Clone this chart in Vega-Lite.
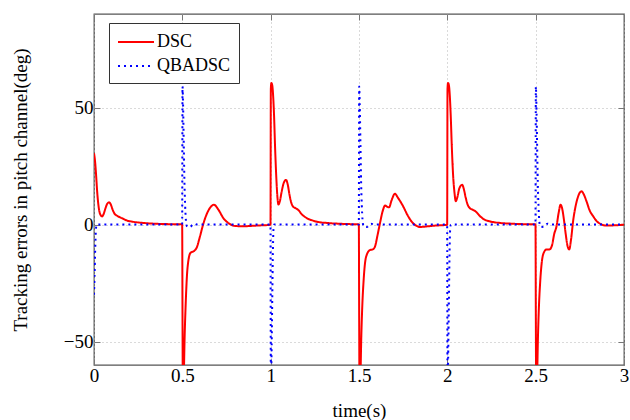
{
  "$schema": "https://vega.github.io/schema/vega-lite/v6.json",
  "width": 530,
  "height": 351,
  "autosize": {"type": "none"},
  "padding": {"left": 94, "top": 14, "right": 6, "bottom": 55},
  "background": "white",
  "config": {
    "view": {"stroke": "#555", "strokeWidth": 1.3},
    "font": "Liberation Serif"
  },
  "datasets": {
    "curves": [
      {"s":"DSC","t":0,"v":30.5},{"s":"DSC","t":0.006,"v":27},{"s":"DSC","t":0.012,"v":21},{"s":"DSC","t":0.018,"v":14},{"s":"DSC","t":0.024,"v":9},{"s":"DSC","t":0.03,"v":5.8},{"s":"DSC","t":0.038,"v":4},{"s":"DSC","t":0.046,"v":3.5},{"s":"DSC","t":0.055,"v":4.6},{"s":"DSC","t":0.065,"v":7},{"s":"DSC","t":0.075,"v":8.9},{"s":"DSC","t":0.085,"v":9.5},{"s":"DSC","t":0.095,"v":8.6},{"s":"DSC","t":0.105,"v":6.5},{"s":"DSC","t":0.115,"v":4.8},{"s":"DSC","t":0.128,"v":3.9},{"s":"DSC","t":0.145,"v":3.2},{"s":"DSC","t":0.165,"v":2.5},{"s":"DSC","t":0.185,"v":1.8},{"s":"DSC","t":0.205,"v":1.4},{"s":"DSC","t":0.24,"v":1},{"s":"DSC","t":0.28,"v":0.7},{"s":"DSC","t":0.34,"v":0.4},{"s":"DSC","t":0.42,"v":0.2},{"s":"DSC","t":0.499,"v":0.1},
      {"s":"DSC","t":0.501,"v":-40},{"s":"DSC","t":0.503,"v":-75},{"s":"DSC","t":0.508,"v":-66},{"s":"DSC","t":0.513,"v":-48},{"s":"DSC","t":0.518,"v":-36},{"s":"DSC","t":0.526,"v":-22},{"s":"DSC","t":0.534,"v":-15.5},{"s":"DSC","t":0.547,"v":-12},{"s":"DSC","t":0.566,"v":-11.3},{"s":"DSC","t":0.581,"v":-9.9},{"s":"DSC","t":0.6,"v":-5},{"s":"DSC","t":0.619,"v":0.4},{"s":"DSC","t":0.641,"v":5},{"s":"DSC","t":0.66,"v":7.5},{"s":"DSC","t":0.679,"v":8.5},{"s":"DSC","t":0.704,"v":6.4},{"s":"DSC","t":0.732,"v":2.8},{"s":"DSC","t":0.76,"v":0.7},{"s":"DSC","t":0.8,"v":-0.6},{"s":"DSC","t":0.85,"v":-0.7},{"s":"DSC","t":0.9,"v":-0.5},{"s":"DSC","t":0.95,"v":-0.3},{"s":"DSC","t":0.999,"v":-0.1},
      {"s":"DSC","t":1.001,"v":58},{"s":"DSC","t":1.004,"v":60.5},{"s":"DSC","t":1.009,"v":59.5},{"s":"DSC","t":1.014,"v":55},{"s":"DSC","t":1.019,"v":47},{"s":"DSC","t":1.025,"v":33},{"s":"DSC","t":1.032,"v":20},{"s":"DSC","t":1.038,"v":12},{"s":"DSC","t":1.044,"v":8.6},{"s":"DSC","t":1.052,"v":10},{"s":"DSC","t":1.062,"v":14},{"s":"DSC","t":1.074,"v":17.8},{"s":"DSC","t":1.087,"v":19.1},{"s":"DSC","t":1.097,"v":17},{"s":"DSC","t":1.106,"v":13},{"s":"DSC","t":1.116,"v":9.5},{"s":"DSC","t":1.128,"v":7.6},{"s":"DSC","t":1.142,"v":7},{"s":"DSC","t":1.157,"v":6.2},{"s":"DSC","t":1.175,"v":4.5},{"s":"DSC","t":1.204,"v":2.8},{"s":"DSC","t":1.24,"v":1.7},{"s":"DSC","t":1.27,"v":1.1},{"s":"DSC","t":1.32,"v":0.7},{"s":"DSC","t":1.38,"v":0.4},{"s":"DSC","t":1.45,"v":0.2},{"s":"DSC","t":1.499,"v":0.1},
      {"s":"DSC","t":1.501,"v":-40},{"s":"DSC","t":1.503,"v":-75},{"s":"DSC","t":1.508,"v":-66},{"s":"DSC","t":1.513,"v":-48},{"s":"DSC","t":1.518,"v":-36},{"s":"DSC","t":1.526,"v":-24},{"s":"DSC","t":1.534,"v":-16.5},{"s":"DSC","t":1.546,"v":-12.5},{"s":"DSC","t":1.562,"v":-10.9},{"s":"DSC","t":1.578,"v":-10.6},{"s":"DSC","t":1.59,"v":-9.5},{"s":"DSC","t":1.605,"v":-4.5},{"s":"DSC","t":1.619,"v":0.7},{"s":"DSC","t":1.633,"v":5.5},{"s":"DSC","t":1.648,"v":8.2},{"s":"DSC","t":1.66,"v":7.6},{"s":"DSC","t":1.67,"v":7.4},{"s":"DSC","t":1.685,"v":10.5},{"s":"DSC","t":1.703,"v":13.2},{"s":"DSC","t":1.72,"v":11.5},{"s":"DSC","t":1.75,"v":7.8},{"s":"DSC","t":1.775,"v":4},{"s":"DSC","t":1.797,"v":1.4},{"s":"DSC","t":1.82,"v":-0.3},{"s":"DSC","t":1.845,"v":-1},{"s":"DSC","t":1.88,"v":-0.8},{"s":"DSC","t":1.92,"v":-0.5},{"s":"DSC","t":1.96,"v":-0.3},{"s":"DSC","t":1.999,"v":-0.1},
      {"s":"DSC","t":2.001,"v":58},{"s":"DSC","t":2.004,"v":60.5},{"s":"DSC","t":2.009,"v":59.5},{"s":"DSC","t":2.014,"v":55},{"s":"DSC","t":2.019,"v":47},{"s":"DSC","t":2.025,"v":34},{"s":"DSC","t":2.032,"v":22},{"s":"DSC","t":2.04,"v":14},{"s":"DSC","t":2.048,"v":10},{"s":"DSC","t":2.056,"v":11.5},{"s":"DSC","t":2.068,"v":15.5},{"s":"DSC","t":2.084,"v":17},{"s":"DSC","t":2.094,"v":15},{"s":"DSC","t":2.104,"v":11.5},{"s":"DSC","t":2.115,"v":8.5},{"s":"DSC","t":2.128,"v":7},{"s":"DSC","t":2.145,"v":6.3},{"s":"DSC","t":2.162,"v":5.5},{"s":"DSC","t":2.18,"v":4},{"s":"DSC","t":2.204,"v":2.4},{"s":"DSC","t":2.24,"v":1.4},{"s":"DSC","t":2.3,"v":0.7},{"s":"DSC","t":2.36,"v":0.4},{"s":"DSC","t":2.43,"v":0.2},{"s":"DSC","t":2.499,"v":0.1},
      {"s":"DSC","t":2.501,"v":-40},{"s":"DSC","t":2.503,"v":-75},{"s":"DSC","t":2.508,"v":-66},{"s":"DSC","t":2.513,"v":-48},{"s":"DSC","t":2.518,"v":-36},{"s":"DSC","t":2.526,"v":-24},{"s":"DSC","t":2.534,"v":-16.5},{"s":"DSC","t":2.546,"v":-12},{"s":"DSC","t":2.562,"v":-10.6},{"s":"DSC","t":2.578,"v":-10.6},{"s":"DSC","t":2.592,"v":-9},{"s":"DSC","t":2.605,"v":-4},{"s":"DSC","t":2.618,"v":-0.7},{"s":"DSC","t":2.63,"v":5},{"s":"DSC","t":2.641,"v":8.5},{"s":"DSC","t":2.651,"v":6.5},{"s":"DSC","t":2.66,"v":2.1},{"s":"DSC","t":2.67,"v":-4},{"s":"DSC","t":2.68,"v":-9},{"s":"DSC","t":2.69,"v":-10.6},{"s":"DSC","t":2.7,"v":-6.5},{"s":"DSC","t":2.713,"v":2.1},{"s":"DSC","t":2.725,"v":7.5},{"s":"DSC","t":2.738,"v":11.5},{"s":"DSC","t":2.75,"v":13.7},{"s":"DSC","t":2.76,"v":14.2},{"s":"DSC","t":2.772,"v":13},{"s":"DSC","t":2.788,"v":9.9},{"s":"DSC","t":2.806,"v":6},{"s":"DSC","t":2.826,"v":3.5},{"s":"DSC","t":2.845,"v":1.5},{"s":"DSC","t":2.864,"v":0.4},{"s":"DSC","t":2.9,"v":-0.4},{"s":"DSC","t":2.95,"v":-0.3},{"s":"DSC","t":3,"v":0},
      {"s":"QBADSC","t":0,"v":-30},{"s":"QBADSC","t":0.003,"v":-22},{"s":"QBADSC","t":0.007,"v":-10},{"s":"QBADSC","t":0.011,"v":-2},{"s":"QBADSC","t":0.015,"v":0},{"s":"QBADSC","t":0.499,"v":0},
      {"s":"QBADSC","t":0.501,"v":59},{"s":"QBADSC","t":0.504,"v":52},{"s":"QBADSC","t":0.508,"v":35},{"s":"QBADSC","t":0.512,"v":18},{"s":"QBADSC","t":0.516,"v":8},{"s":"QBADSC","t":0.52,"v":2},{"s":"QBADSC","t":0.523,"v":0},{"s":"QBADSC","t":0.528,"v":-0.9},{"s":"QBADSC","t":0.545,"v":-1},{"s":"QBADSC","t":0.558,"v":0},{"s":"QBADSC","t":0.568,"v":0.4},{"s":"QBADSC","t":0.585,"v":0},{"s":"QBADSC","t":0.999,"v":0},
      {"s":"QBADSC","t":1.001,"v":-70},{"s":"QBADSC","t":1.004,"v":-60},{"s":"QBADSC","t":1.009,"v":-32},{"s":"QBADSC","t":1.013,"v":-10},{"s":"QBADSC","t":1.016,"v":-2},{"s":"QBADSC","t":1.02,"v":0},{"s":"QBADSC","t":1.499,"v":0},
      {"s":"QBADSC","t":1.501,"v":59},{"s":"QBADSC","t":1.504,"v":52},{"s":"QBADSC","t":1.508,"v":35},{"s":"QBADSC","t":1.512,"v":18},{"s":"QBADSC","t":1.516,"v":8},{"s":"QBADSC","t":1.52,"v":2},{"s":"QBADSC","t":1.523,"v":0},{"s":"QBADSC","t":1.528,"v":-0.9},{"s":"QBADSC","t":1.545,"v":-1},{"s":"QBADSC","t":1.558,"v":0},{"s":"QBADSC","t":1.568,"v":0.4},{"s":"QBADSC","t":1.585,"v":0},{"s":"QBADSC","t":1.999,"v":0},
      {"s":"QBADSC","t":2.001,"v":-70},{"s":"QBADSC","t":2.004,"v":-60},{"s":"QBADSC","t":2.009,"v":-32},{"s":"QBADSC","t":2.013,"v":-10},{"s":"QBADSC","t":2.016,"v":-2},{"s":"QBADSC","t":2.02,"v":0},{"s":"QBADSC","t":2.499,"v":0},
      {"s":"QBADSC","t":2.501,"v":59},{"s":"QBADSC","t":2.504,"v":52},{"s":"QBADSC","t":2.508,"v":35},{"s":"QBADSC","t":2.512,"v":18},{"s":"QBADSC","t":2.516,"v":8},{"s":"QBADSC","t":2.52,"v":2},{"s":"QBADSC","t":2.523,"v":0},{"s":"QBADSC","t":2.528,"v":-0.9},{"s":"QBADSC","t":2.545,"v":-1},{"s":"QBADSC","t":2.558,"v":0},{"s":"QBADSC","t":2.568,"v":0.4},{"s":"QBADSC","t":2.585,"v":0},{"s":"QBADSC","t":3,"v":0}
    ],
    "anchor": [{"t": 0, "v": 0}]
  },
  "layer": [
    {
      "data": {"name": "curves"},
      "mark": {"type": "line", "interpolate": "monotone", "clip": true, "strokeWidth": 2, "strokeJoin": "round"},
      "encoding": {
        "x": {
          "field": "t", "type": "quantitative",
          "scale": {"domain": [0, 3], "nice": false, "zero": false},
          "axis": {
            "orient": "bottom", "values": [0, 0.5, 1, 1.5, 2, 2.5, 3], "format": "~g",
            "grid": true, "gridDash": [1, 3], "gridColor": "#b5b5b5", "gridWidth": 1,
            "domain": false, "ticks": true, "tickSize": -6, "tickColor": "#777", "tickWidth": 1,
            "labelFont": "Liberation Serif", "labelFontSize": 19, "labelColor": "#000", "labelPadding": 7, "labelFlush": false,
            "title": "time(s)", "titleFont": "Liberation Serif", "titleFontSize": 19, "titleFontWeight": "normal", "titleColor": "#000",
            "titleBaseline": "alphabetic", "titleY": 51
          }
        },
        "y": {
          "field": "v", "type": "quantitative",
          "scale": {"domain": [-60, 90], "nice": false, "zero": false},
          "axis": {
            "orient": "left", "values": [-50, 0, 50], "format": "d",
            "grid": true, "gridDash": [1, 3], "gridColor": "#b5b5b5", "gridWidth": 1,
            "domain": false, "ticks": true, "tickSize": -6, "tickColor": "#777", "tickWidth": 1,
            "labelFont": "Liberation Serif", "labelFontSize": 19, "labelColor": "#000", "labelPadding": 7,
            "title": "Tracking errors in pitch channel(deg)", "titleFont": "Liberation Serif", "titleFontSize": 19, "titleFontWeight": "normal", "titleColor": "#000",
            "titleAngle": 270, "titleAlign": "center", "titleBaseline": "alphabetic", "titleX": -68, "titleY": 175.5
          }
        },
        "color": {
          "field": "s", "type": "nominal",
          "scale": {"domain": ["DSC", "QBADSC"], "range": ["#ff0000", "#0000ff"]},
          "legend": {
            "title": null, "orient": "none", "legendX": 15, "legendY": 9,
            "fillColor": "#ffffff", "strokeColor": "#333", "padding": 8, "rowPadding": 4,
            "symbolType": "M-1,0H2.6", "symbolSize": 400, "symbolStrokeWidth": 2,
            "labelFont": "Liberation Serif", "labelFontSize": 18, "labelColor": "#000", "labelOffset": 18
          }
        },
        "strokeDash": {
          "field": "s", "type": "nominal",
          "scale": {"domain": ["DSC", "QBADSC"], "range": [[1, 0], [2, 4]]},
          "legend": {
            "title": null, "orient": "none", "legendX": 15, "legendY": 9,
            "fillColor": "#ffffff", "strokeColor": "#333", "padding": 8, "rowPadding": 4,
            "symbolType": "M-1,0H2.6", "symbolSize": 400, "symbolStrokeWidth": 2,
            "labelFont": "Liberation Serif", "labelFontSize": 18, "labelColor": "#000", "labelOffset": 18
          }
        }
      }
    },
    {
      "data": {"name": "anchor"},
      "mark": {"type": "point", "opacity": 0},
      "encoding": {
        "x": {
          "field": "t", "type": "quantitative",
          "axis": {"orient": "top", "values": [0, 0.5, 1, 1.5, 2, 2.5, 3], "labels": false, "title": null, "grid": false, "domain": false, "tickSize": -6, "tickColor": "#777"}
        },
        "y": {
          "field": "v", "type": "quantitative",
          "axis": {"orient": "right", "values": [-50, 0, 50], "labels": false, "title": null, "grid": false, "domain": false, "tickSize": -6, "tickColor": "#777"}
        }
      }
    }
  ],
  "resolve": {"axis": {"x": "independent", "y": "independent"}}
}
